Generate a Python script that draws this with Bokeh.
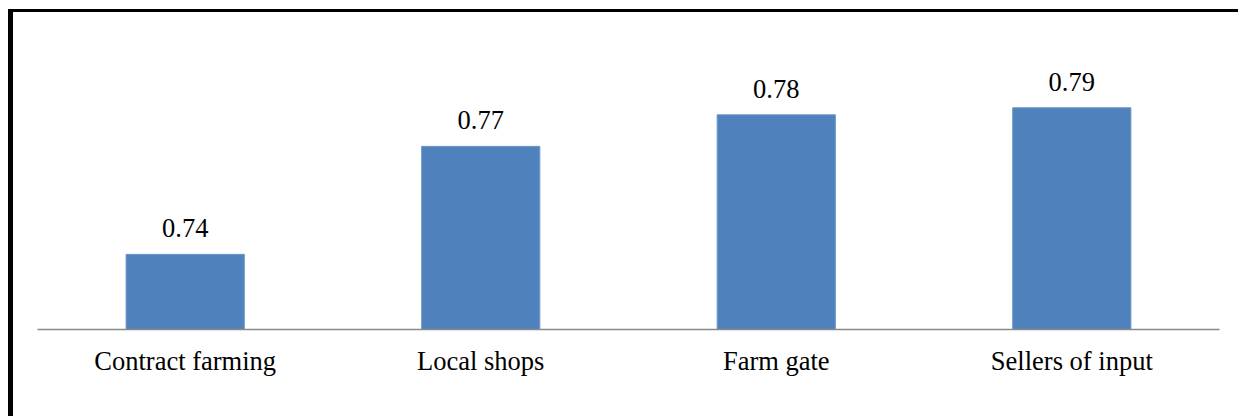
from bokeh.plotting import figure
from bokeh.models import ColumnDataSource, FactorRange, Range1d, LabelSet
from bokeh.embed import file_html
from bokeh.resources import INLINE

# Market outlets and their scores
categories = ["Contract farming", "Local shops", "Farm gate", "Sellers of input"]
scores = [0.7424, 0.7746, 0.7840, 0.7861]
score_labels = [f"{v:.2f}" for v in scores]

FONT = "'Liberation Serif', 'Times New Roman', serif"
FONT_SIZE = "26.5px"
BAR_COLOR = "#4F81BD"

source = ColumnDataSource(dict(cat=categories, score=scores, label=score_labels))

x_range = FactorRange(*categories, range_padding=0.081, range_padding_units="absolute")
y_range = Range1d(0.72, 0.8145)

p = figure(
    x_range=x_range,
    y_range=y_range,
    width=1230,
    height=407,
    output_backend="svg",
    toolbar_location=None,
    min_border_left=0,
    min_border_right=0,
    min_border_top=0,
    min_border_bottom=90,
    y_axis_location=None,
)
# chart frame: heavy rule along the left and top edges
p.styles = {
    "border-left": "5px solid black",
    "border-top": "3px solid black",
    "margin-left": "8px",
    "margin-top": "9px",
}

p.vbar(x="cat", top="score", bottom=0.72, width=0.40, source=source,
       fill_color=BAR_COLOR, line_color="#6f97c9", line_width=1)

labels = LabelSet(x="cat", y="score", text="label", source=source,
                  text_align="center", text_baseline="alphabetic", y_offset=17,
                  text_font=FONT, text_font_size=FONT_SIZE, text_color="black")
p.add_layout(labels)

xa = p.xaxis[0]
xa.bounds = (0, len(categories))
xa.axis_line_color = "#8a8a8a"
xa.axis_line_width = 1.5
xa.major_tick_line_color = None
xa.minor_tick_line_color = None
xa.major_tick_out = 0
xa.major_tick_in = 0
xa.major_label_standoff = 16
xa.major_label_text_font = FONT
xa.major_label_text_font_size = FONT_SIZE
xa.major_label_text_color = "black"

p.xgrid.grid_line_color = None
p.ygrid.grid_line_color = None
p.outline_line_color = None
p.background_fill_color = "white"
p.border_fill_color = "white"

open("out.html", "w").write(file_html(p, INLINE))
